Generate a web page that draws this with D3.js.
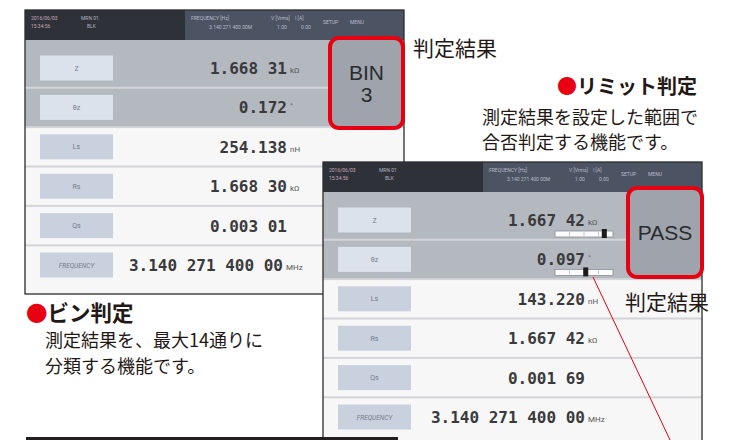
<!DOCTYPE html>
<html>
<head>
<meta charset="utf-8">
<script src="https://cdn.jsdelivr.net/npm/d3@7"></script>
<style>
  html, body { margin: 0; padding: 0; background: #fff; }
  svg { display: block; }
</style>
</head>
<body>
<div id="chart"></div>
<script>
// row labels on the meter screen
const rowLabels = ['Z', 'θz', 'Ls', 'Rs', 'Qs', 'FREQUENCY'];

// screen 1 : BIN judgement
const binValues = ['1.668 31', '0.172', '254.138', '1.668 30', '0.003 01', '3.140 271 400 00'];
const binUnits = ['kΩ', '°', 'nH', 'kΩ', '', 'MHz'];
const binResult = ['BIN', '3'];

// screen 2 : limit judgement
const limitValues = ['1.667 42', '0.097', '143.220', '1.667 42', '0.001 69', '3.140 271 400 00'];
const limitUnits = ['kΩ', '°', 'nH', 'kΩ', '', 'MHz'];
const limitResult = ['PASS'];
const limitMarks = [0.85, 0.53];   // marker position on the small limit bars

// header of the screen
const headerLeft = [['2016/06/03', '15:34:56'], ['MRN 01', 'BLK']];
const headerRight = [['FREQUENCY [Hz]', '3.140 271 400 00M'], ['V [Vrms]', '1.00'], ['I [A]', '0.00'], ['SETUP', ''], ['MENU', '']];

// annotation texts
const resultLabel = '判定結果';
const limitTitle = 'リミット判定';
const limitLines = ['測定結果を設定した範囲で', '合否判定する機能です。'];
const binTitle = 'ビン判定';
const binLines = ['測定結果を、最大14通りに', '分類する機能です。'];

const W = 734, H = 440;
const RED = '#e60012';
const JP = '"Noto Sans CJK JP", "Noto Sans", sans-serif';
const MONO = '"DejaVu Sans Mono", "Liberation Mono", monospace';

const svg = d3.select('#chart').append('svg')
  .attr('width', W)
  .attr('height', H);

const screenW = 379;
const headerH = 30;
const y = d3.scaleBand().domain(rowLabels).range([38.3, 38.3 + 39.4 * 6]);

function drawScreen(x0, y0, h, values, units, freqEnd) {
  const g = svg.append('g').attr('transform', `translate(${x0},${y0})`);

  g.append('rect')
    .attr('width', screenW).attr('height', h)
    .attr('fill', '#f7f7f7');

  // grey area for the two upper rows
  g.append('rect')
    .attr('y', headerH)
    .attr('width', screenW)
    .attr('height', y(rowLabels[1]) + y.bandwidth() - headerH)
    .attr('fill', '#b4b8bf');

  // header
  g.append('rect').attr('width', screenW).attr('height', headerH).attr('fill', '#2f3139');
  g.append('rect').attr('x', 160).attr('width', screenW - 160).attr('height', headerH).attr('fill', '#4c5363');

  headerLeft.forEach((pair, i) => {
    pair.forEach((t, k) => {
      g.append('text')
        .attr('x', 6 + i * 50 + (i && k ? 6 : 0)).attr('y', 10 + k * 8)
        .attr('font-family', 'Roboto, sans-serif').attr('font-size', 5)
        .attr('fill', i === 0 ? '#c9a9b6' : '#aeb2c0')
        .text(t);
    });
  });
  const hx = [166, 246, 270, 298, 325];
  headerRight.forEach((pair, i) => {
    pair.forEach((t, k) => {
      g.append('text')
        .attr('x', hx[i] + (k ? (i === 0 ? 18 : 6) : 0)).attr('y', (i >= 3 ? 14 : 10) + k * 9)
        .attr('font-family', 'Roboto, sans-serif').attr('font-size', 5)
        .attr('fill', '#b8bdca')
        .text(t);
    });
  });

  // row dividers
  rowLabels.slice(1).forEach(r => {
    g.append('rect')
      .attr('x', 0).attr('y', y(r) - 1)
      .attr('width', screenW).attr('height', 2)
      .attr('fill', '#d3d4d7');
  });

  // label buttons
  rowLabels.forEach((r, i) => {
    const cy = y(r) + y.bandwidth() / 2;
    g.append('rect')
      .attr('x', 15).attr('y', cy - 12.5)
      .attr('width', 73).attr('height', 25)
      .attr('fill', i < 2 ? '#dce2eb' : '#c9d1df');
    g.append('text')
      .attr('x', 51.5).attr('y', cy + 2.5)
      .attr('text-anchor', 'middle')
      .attr('font-family', 'Roboto, sans-serif')
      .attr('font-size', i === 5 ? 6.5 : 7)
      .attr('font-style', i === 5 ? 'italic' : 'normal')
      .attr('fill', '#727a8a')
      .text(r);
  });

  // measured values
  rowLabels.forEach((r, i) => {
    const cy = y(r) + y.bandwidth() / 2;
    const xe = i === 5 ? freqEnd : 262;
    g.append('text')
      .attr('x', xe).attr('y', cy + 6)
      .attr('text-anchor', 'end')
      .attr('font-family', MONO).attr('font-size', 16).attr('font-weight', 'bold')
      .attr('fill', '#3a3a3c')
      .text(values[i]);
    if (units[i]) {
      g.append('text')
        .attr('x', xe + 3).attr('y', cy + (units[i] === '°' ? 1 : 5))
        .attr('font-family', 'Roboto, sans-serif').attr('font-size', 8)
        .attr('fill', '#555')
        .text(units[i]);
    }
  });

  g.append('rect')
    .attr('width', screenW).attr('height', h)
    .attr('fill', 'none').attr('stroke', '#2b2b2b').attr('stroke-width', 1.3);
  return g;
}

function resultBox(x, yTop, w, h, lines, fs) {
  svg.append('rect')
    .attr('x', x).attr('y', yTop).attr('width', w).attr('height', h)
    .attr('rx', 9)
    .attr('fill', '#9fa3ab')
    .attr('stroke', RED).attr('stroke-width', 4);
  const cy = yTop + h / 2;
  lines.forEach((t, i) => {
    svg.append('text')
      .attr('x', x + w / 2)
      .attr('y', cy + (i - (lines.length - 1) / 2) * 22 + fs * 0.36)
      .attr('text-anchor', 'middle')
      .attr('font-family', '"Liberation Sans", Arial, sans-serif')
      .attr('font-size', fs)
      .attr('fill', '#2a2b2e')
      .text(t);
  });
}

function jpText(x, yy, t, fs, weight, anchor) {
  return svg.append('text')
    .attr('x', x).attr('y', yy)
    .attr('text-anchor', anchor || 'start')
    .attr('font-family', JP).attr('font-size', fs)
    .attr('font-weight', weight || 'normal')
    .attr('fill', '#231815')
    .text(t);
}

function titleText(x, yy, t, fs) {
  const tx = svg.append('text')
    .attr('x', x).attr('y', yy)
    .attr('font-family', JP).attr('font-size', fs).attr('font-weight', 'bold')
    .attr('fill', '#231815');
  tx.append('tspan').attr('fill', RED).text('●');
  tx.append('tspan').text(t);
}

// screen 1
drawScreen(25, 10, 284, binValues, binUnits, 258);
resultBox(330, 38, 73, 90, binResult, 21);

// screen 2
const s2 = drawScreen(323, 162, 300, limitValues, limitUnits, 262);
const bx = d3.scaleLinear().domain([0, 1]).range([232, 290]);
limitMarks.forEach((m, i) => {
  const cy = y(rowLabels[i]) + y.bandwidth() / 2 + (i === 0 ? 11 : 10);
  s2.append('rect')
    .attr('x', bx(0)).attr('y', cy).attr('width', bx(1) - bx(0)).attr('height', 6)
    .attr('fill', '#fbfbfb').attr('stroke', '#8d9097').attr('stroke-width', 0.8);
  d3.range(0.25, 1, 0.25).forEach(f => {
    s2.append('line')
      .attr('x1', bx(f)).attr('x2', bx(f)).attr('y1', cy + 1).attr('y2', cy + 5)
      .attr('stroke', '#b8bbc0').attr('stroke-width', 0.8);
  });
  s2.append('rect')
    .attr('x', bx(m) - 2.5).attr('y', cy - 2).attr('width', 5).attr('height', 9)
    .attr('fill', '#1c1c1c');
});
resultBox(628, 188, 74, 89, limitResult, 21);

// pointer line
svg.append('line')
  .attr('x1', 593).attr('y1', 277)
  .attr('x2', 671).attr('y2', 442)
  .attr('stroke', RED).attr('stroke-width', 1);

// bottom bar
svg.append('rect')
  .attr('x', 26).attr('y', 437).attr('width', 372).attr('height', 4)
  .attr('fill', '#231f20');

// annotations
jpText(413, 56, resultLabel, 21);
jpText(625, 310, resultLabel, 21);

titleText(557, 94, limitTitle, 20);
limitLines.forEach((t, i) => jpText(482, 124 + i * 25, t, 18));

titleText(26, 321, binTitle, 21.5);
binLines.forEach((t, i) => jpText(45, 347 + i * 26, t, 18));
</script>
</body>
</html>
